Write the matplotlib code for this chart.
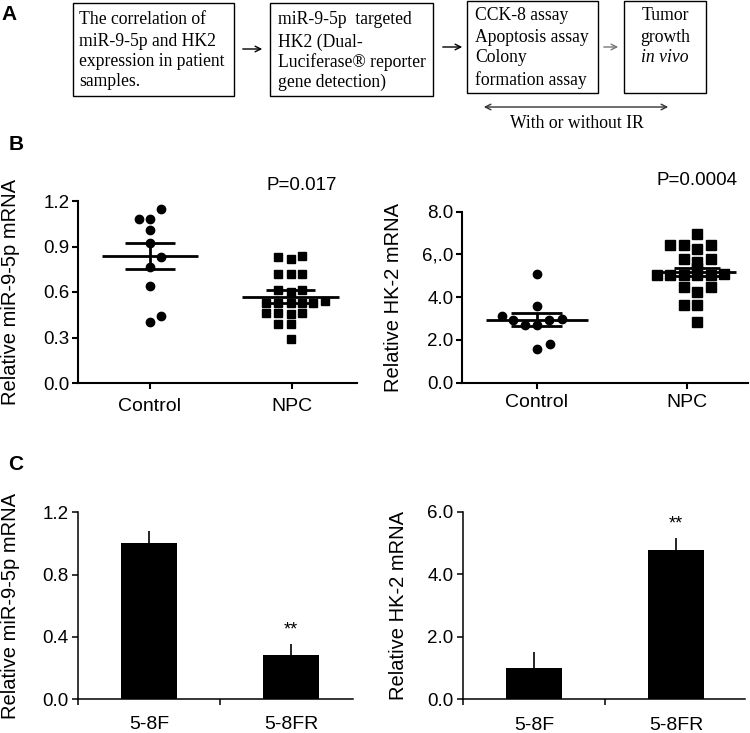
import matplotlib
matplotlib.use("Agg")
import matplotlib.pyplot as plt
from matplotlib.patches import Rectangle, FancyArrowPatch

plt.rcParams["font.family"] = ["Liberation Sans", "DejaVu Sans"]

W, H = 750, 733

# ---- panel B data ----
GROUPS = ["Control", "NPC"]

MIR_CTRL = [1.145, 1.08, 1.08, 1.01, 0.92, 0.83, 0.765, 0.64, 0.44, 0.40]
MIR_CTRL_JIT = [0.08, -0.08, 0.0, 0.0, 0.0, 0.08, 0.0, 0.0, 0.08, 0.0]
MIR_NPC = [0.83, 0.82, 0.835, 0.72, 0.72, 0.72, 0.615, 0.60, 0.615,
           0.525, 0.525, 0.53, 0.525, 0.525, 0.54,
           0.46, 0.46, 0.455, 0.46, 0.39, 0.39, 0.29]
MIR_NPC_JIT = [-0.10, -0.01, 0.07, -0.10, -0.01, 0.07, -0.10, -0.01, 0.07,
               -0.18, -0.10, -0.01, 0.07, 0.15, 0.23,
               -0.18, -0.10, -0.01, 0.07, -0.10, -0.01, -0.01]
MIR_MEAN = [0.835, 0.57]
MIR_SEM = [0.085, 0.042]
MIR_P = "P=0.017"

HK_CTRL = [5.07, 3.57, 3.11, 2.92, 2.69, 2.69, 2.92, 2.97, 1.55, 1.80]
HK_CTRL_JIT = [0.0, 0.0, -0.235, -0.16, -0.08, 0.0, 0.08, 0.165, 0.0, 0.087]
HK_NPC = [6.97, 6.43, 6.43, 6.27, 6.43, 5.80, 5.64, 5.80, 5.35,
          5.02, 5.02, 5.02, 5.02, 5.05, 5.10,
          4.48, 4.24, 4.48, 3.65, 3.65, 2.84]
HK_NPC_JIT = [0.07, -0.11, -0.02, 0.07, 0.16, -0.02, 0.07, 0.16, 0.07,
              -0.20, -0.11, -0.02, 0.07, 0.16, 0.25,
              -0.02, 0.07, 0.16, -0.02, 0.07, 0.07]
HK_MEAN = [2.95, 5.18]
HK_SEM = [0.3, 0.18]
HK_P = "P=0.0004"

# ---- panel C data ----
CELLS = ["5-8F", "5-8FR"]
C_MIR = [1.0, 0.285]
C_MIR_ERR = [0.08, 0.07]
C_HK = [1.0, 4.78]
C_HK_ERR = [0.5, 0.37]

fig = plt.figure(figsize=(7.5, 7.33), dpi=100)

# overlay in pixel coords for panel A and the panel letters
ov = fig.add_axes([0, 0, 1, 1])
ov.set_xlim(0, W)
ov.set_ylim(H, 0)
ov.axis("off")
ov.patch.set_alpha(0)

for lab, x, y in (("A", 9, 14), ("B", 16, 145), ("C", 16, 465)):
    ov.text(x, y, lab, fontsize=15, fontweight="bold", ha="center", va="center")

serif = ["Liberation Serif", "DejaVu Serif"]
boxes = [
    (73, 234, 3, 96, 79, "left",
     ["The correlation of", "miR-9-5p and HK2", "expression in patient", "samples."],
     [20, 42, 62, 82]),
    (270, 433, 3, 96, 278, "left",
     ["miR-9-5p  targeted", "HK2 (Dual-", "Luciferase® reporter", "gene detection)"],
     [20, 42, 62, 82]),
    (467, 598, 1, 93, 475, "left",
     ["CCK-8 assay", "Apoptosis assay", "Colony", "formation assay"],
     [15, 37, 58, 80]),
    (624, 706, 1, 93, 665, "center",
     ["Tumor", "growth", "in vivo"],
     [15, 37, 58]),
]
for x0, x1, y0, y1, tx, ha, lines, ys in boxes:
    ov.add_patch(Rectangle((x0, y0), x1 - x0, y1 - y0, fill=False, lw=1.0,
                           edgecolor="black"))
    for s, ty in zip(lines, ys):
        ov.text(tx, ty, s, ha=ha, va="center", fontsize=12.7, family=serif,
                style="italic" if s == "in vivo" else "normal")

for xa, xb, y, col in ((240, 265, 49, "black"), (440, 465, 47, "black"),
                       (601, 621, 47, "#777777")):
    ov.add_patch(FancyArrowPatch((xa, y), (xb, y), arrowstyle="->",
                                 mutation_scale=10, lw=1.0, color=col))
ov.add_patch(FancyArrowPatch((481, 107), (671, 107), arrowstyle="<->",
                             mutation_scale=10, lw=1.0, color="#333333"))
ov.text(577, 123, "With or without IR", ha="center", va="center",
        fontsize=12.7, family=serif)


def px_axes(x0, x1, ytop, ybot):
    return fig.add_axes([x0 / W, 1 - ybot / H, (x1 - x0) / W, (ybot - ytop) / H])


def style(ax, lw):
    for sp in ("top", "right"):
        ax.spines[sp].set_visible(False)
    for sp in ("left", "bottom"):
        ax.spines[sp].set_linewidth(lw)
    ax.tick_params(axis="y", width=lw, length=4.5, labelsize=13.5, pad=1.5)
    ax.tick_params(axis="x", width=lw, length=4.5, labelsize=14, pad=6)


def scatter_panel(ax, ctrl, ctrl_jit, npc, npc_jit, means, sems, centers,
                  halfs, ms):
    ax.plot(ctrl_jit, ctrl, "o", color="black", ms=ms[0], clip_on=False,
            zorder=3)
    ax.plot([1 + j for j in npc_jit], npc, "s", color="black", ms=ms[1],
            clip_on=False, zorder=3)
    for i, (m, s) in enumerate(zip(means, sems)):
        c = i + centers[i]
        ax.hlines(m, c - halfs[i][0], c + halfs[i][0], color="black", lw=2,
                  zorder=4)
        ax.hlines([m - s, m + s], c - halfs[i][1], c + halfs[i][1],
                  color="black", lw=2, zorder=4)
        ax.vlines(c, m - s, m + s, color="black", lw=2, zorder=4)


# ---- B left ----
ax1 = px_axes(78, 357, 201, 383)
scatter_panel(ax1, MIR_CTRL, MIR_CTRL_JIT, MIR_NPC, MIR_NPC_JIT, MIR_MEAN,
              MIR_SEM, [0.0, -0.01], [(0.34, 0.176), (0.34, 0.17)], (6, 6))
ax1.set_xlim(-0.507, 1.458)
ax1.set_ylim(0, 1.2)
ax1.set_yticks([0, 0.3, 0.6, 0.9, 1.2])
ax1.set_yticklabels(["0.0", "0.3", "0.6", "0.9", "1.2"])
ax1.set_xticks([0, 1])
ax1.set_xticklabels(GROUPS)
style(ax1, 1.5)
ax1.set_ylabel("Relative miR-9-5p mRNA", fontsize=14.5)
ax1.yaxis.set_label_coords(-0.208, 0.5)
ax1.text(1.07, 1.305, MIR_P, ha="center", va="center", fontsize=13.5)

# ---- B right ----
ax2 = px_axes(462, 748, 211.7, 382.5)
scatter_panel(ax2, HK_CTRL, HK_CTRL_JIT, HK_NPC, HK_NPC_JIT, HK_MEAN,
              HK_SEM, [0.0, 0.067], [(0.34, 0.17), (0.26, 0.155)], (6, 7))
ax2.set_xlim(-0.5, 1.407)
ax2.set_ylim(0, 8)
ax2.set_yticks([0, 2, 4, 6, 8])
ax2.set_yticklabels(["0.0", "2.0", "4.0", "6,.0", "8.0"])
ax2.set_xticks([0, 1])
ax2.set_xticklabels(GROUPS)
style(ax2, 1.5)
ax2.tick_params(axis="x", pad=4)
ax2.set_ylabel("Relative HK-2 mRNA", fontsize=14.5)
ax2.yaxis.set_label_coords(-0.206, 0.5)
ax2.text(1.067, 9.46, HK_P, ha="center", va="center", fontsize=13.5)


def bar_panel(ax, vals, errs, ylim, ticks, labels):
    xs = list(range(len(vals)))
    ax.bar(xs, vals, width=0.4, color="black", zorder=2)
    ax.errorbar(xs, vals, yerr=[[0] * len(errs), errs], fmt="none",
                ecolor="black", elinewidth=1.2, capsize=0, zorder=1)
    ax.annotate("**", (1, vals[1] + errs[1]), xytext=(0, 4),
                textcoords="offset points", ha="center", va="bottom",
                fontsize=13)
    ax.set_ylim(*ylim)
    ax.set_yticks(ticks)
    ax.set_yticklabels(labels)
    ax.set_xticks([-0.5, 0.5])
    ax.set_xticklabels([])
    for x, lab in zip(xs, CELLS):
        ax.text(x, -0.137, lab, transform=ax.get_xaxis_transform(), ha="center",
                va="center", fontsize=14)
    style(ax, 1.1)
    ax.tick_params(axis="y", pad=2.5)


# ---- C left ----
ax3 = px_axes(78, 353, 512.3, 699.3)
bar_panel(ax3, C_MIR, C_MIR_ERR, (0, 1.2), [0, 0.4, 0.8, 1.2],
          ["0.0", "0.4", "0.8", "1.2"])
ax3.set_xlim(-0.5, 1.437)
ax3.set_ylabel("Relative miR-9-5p mRNA", fontsize=14.5)
ax3.yaxis.set_label_coords(-0.21, 0.5)

# ---- C right ----
ax4 = px_axes(463, 745, 511.7, 699.3)
bar_panel(ax4, C_HK, C_HK_ERR, (0, 6), [0, 2, 4, 6],
          ["0.0", "2.0", "4.0", "6.0"])
ax4.set_xlim(-0.5, 1.486)
ax4.set_ylabel("Relative HK-2 mRNA", fontsize=14.5)
ax4.yaxis.set_label_coords(-0.195, 0.5)

fig.savefig("out.png", dpi=100)
